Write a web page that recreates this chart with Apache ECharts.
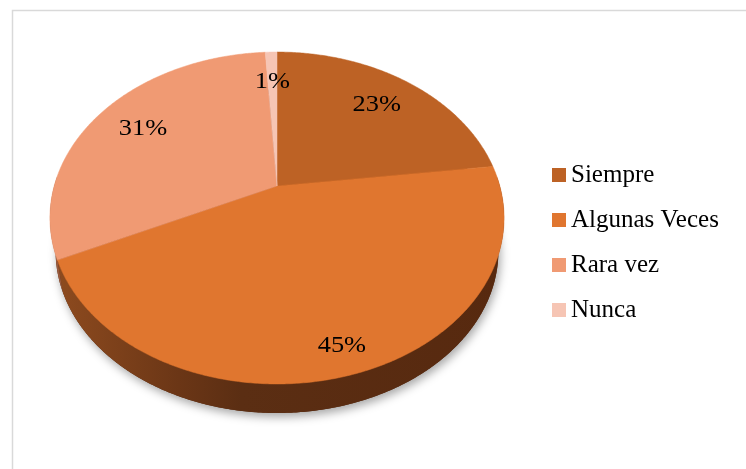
<!DOCTYPE html>
<html><head><meta charset="utf-8">
<script src="https://cdn.jsdelivr.net/npm/echarts@6/dist/echarts.min.js"></script>
<style>html,body{margin:0;padding:0;background:#fff}#c{width:746px;height:469px}</style>
</head><body><div id="c"></div>
<script>
// ---- data ----
const categories = ['Siempre', 'Algunas Veces', 'Rara vez', 'Nunca'];
const values = [23, 45, 31, 1];
const labels = ['23%', '45%', '31%', '1%'];

// ---- styles ----
const topColors = ['#BD6225', '#E0762F', '#F09A73', '#F6C5B4'];
const sideStops = [
  [['#8a4a1e', 0], ['#5a2d12', 1]],
  [['#8e4b1f', 0], ['#6b3616', 0.28], ['#5b2e13', 0.42], ['#57290f', 1]],
  [['#9a5a3c', 0], ['#7a4630', 1]],
  [['#a47a6c', 0], ['#8a6254', 1]]
];
const FONT = "'Liberation Serif', 'Times New Roman', serif";

// ---- layout (perspective projection of the disc) ----
const L = {cx: 277, cy: 186, A: 222.8, B: 159.8, k: 0.1928, s: 0.975, cyb: 220};
function proj(t, r, bottom) {
  const u = r * Math.cos(t), v = r * Math.sin(t);
  const d = 1 + L.k * v;
  const sc = bottom ? L.s : 1;
  return [L.cx + sc * L.A * u / d, (bottom ? L.cyb : L.cy) - sc * L.B * v / d];
}

const total = values.reduce((a, b) => a + b, 0);
const starts = [];
values.reduce((acc, v) => { starts.push(acc); return acc + v; }, 0);

function arc(a0, a1, bottom) {
  const n = Math.max(2, Math.ceil(Math.abs(a0 - a1) / (Math.PI / 360)));
  const pts = [];
  for (let j = 0; j <= n; j++) pts.push(proj(a0 + (a1 - a0) * j / n, 1, bottom));
  return pts;
}

function makeRender(i) {
  return function (params, api) {
    const val = api.value(0);
    const f0 = starts[i] / total, f1 = (starts[i] + val) / total;
    const a0 = Math.PI / 2 - f0 * 2 * Math.PI;
    const a1 = Math.PI / 2 - f1 * 2 * Math.PI;
    const children = [];
    if (i === 0) {
      children.push({
        type: 'polygon', z2: -5, silent: true,
        shape: {points: arc(0, 2 * Math.PI, true)},
        style: {fill: '#57290f', shadowColor: 'rgba(0,0,0,0.35)', shadowBlur: 10, shadowOffsetY: 4, shadowOffsetX: 2}
      });
    }
    const lo = Math.max(a1, -Math.PI - 0.06), hi = Math.min(a0, 0.06);
    if (hi > lo) {
      const topPts = arc(hi, lo, false);
      const botPts = arc(lo, hi, true);
      const stops = sideStops[i].map(s => ({color: s[0], offset: s[1]}));
      children.push({
        type: 'polygon', z2: 0, silent: true,
        shape: {points: topPts.concat(botPts)},
        style: {fill: new echarts.graphic.LinearGradient(L.cx - L.A, 0, L.cx + L.A, 0, stops, true)}
      });
    }
    const pts = [proj(0, 0, false)].concat(arc(a0, a1, false));
    children.push({
      type: 'polygon', z2: 10, silent: true,
      shape: {points: pts},
      style: {fill: topColors[i], stroke: topColors[i], lineWidth: 0.5}
    });
    const am = (a0 + a1) / 2;
    const vm = Math.sin(am);
    const r = 0.75 + 0.13 * Math.max(0, -vm);
    const p = proj(am, r, false);
    children.push({
      type: 'text', z2: 20, silent: true,
      x: p[0], y: p[1], scaleX: 1.1,
      style: {text: labels[i], fill: '#000', font: '24px ' + FONT, align: 'center', verticalAlign: 'middle'}
    });
    return {type: 'group', children: children};
  };
}

const chart = echarts.init(document.getElementById('c'), null, {renderer: 'canvas'});
chart.setOption({
  backgroundColor: '#ffffff',
  animation: false,
  graphic: [{
    type: 'rect', silent: true, z: -10,
    shape: {x: 12.5, y: 10.5, width: 800, height: 500},
    style: {fill: 'none', stroke: '#d9d9d9', lineWidth: 1.5}
  }],
  legend: {
    orient: 'vertical', left: 552, top: 162.5, padding: 0,
    itemWidth: 14, itemHeight: 14, itemGap: 20, icon: 'rect',
    selectedMode: false,
    data: categories,
    textStyle: {fontFamily: FONT, fontSize: 25, lineHeight: 25, color: '#000'}
  },
  series: categories.map((name, i) => ({
    type: 'custom', name: name, coordinateSystem: 'none', silent: true,
    itemStyle: {color: topColors[i]},
    data: [[values[i]]],
    renderItem: makeRender(i)
  }))
});
</script>
</body></html>
